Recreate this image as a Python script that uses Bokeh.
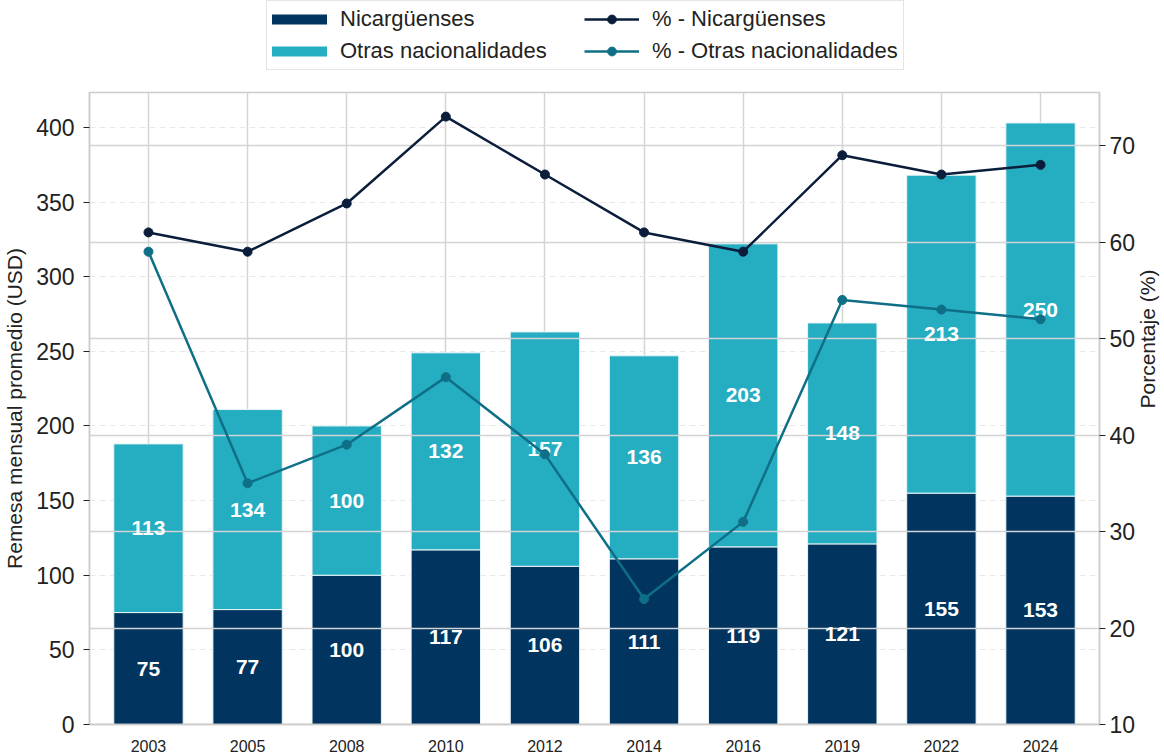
import math
from bokeh.plotting import figure
from bokeh.layouts import column
from bokeh.models import (ColumnDataSource, FactorRange, Range1d, LinearAxis, Legend,
                          LegendItem, FixedTicker)
from bokeh.embed import file_html
from bokeh.resources import INLINE
from bokeh.core.properties import value

years = ["2003", "2005", "2008", "2010", "2012", "2014", "2016", "2019", "2022", "2024"]
nic = [75, 77, 100, 117, 106, 111, 119, 121, 155, 153]
otras = [113, 134, 100, 132, 157, 136, 203, 148, 213, 250]
pct_nic = [61, 59, 64, 73, 67, 61, 59, 69, 67, 68]
pct_otras = [59, 35, 39, 46, 38, 23, 31, 54, 53, 52]
usd_ticks = [0, 50, 100, 150, 200, 250, 300, 350, 400]
pct_ticks = [10, 20, 30, 40, 50, 60, 70]

C_NIC = "#01355F"
C_OTR = "#25ADC2"
C_LNIC = "#0A1D3B"
C_LOTR = "#0F6F86"
FONT = "Liberation Sans"

src = ColumnDataSource(dict(
    year=years, nic=nic, otras=otras, pct_nic=pct_nic, pct_otras=pct_otras,
    idx=list(range(len(years))),
    mid_nic=[n / 2 for n in nic],
    mid_otr=[n + o / 2 for n, o in zip(nic, otras)],
    nic_txt=[str(v) for v in nic],
    otr_txt=[str(v) for v in otras],
))

W_LEFT, W_FRAME, W_RIGHT = 88, 1010, 66

p = figure(x_range=FactorRange(factors=years, range_padding=0.095, range_padding_units="absolute"),
           y_range=Range1d(0, 423.4),
           frame_width=W_FRAME, frame_height=632,
           min_border_left=W_LEFT, min_border_right=W_RIGHT, min_border_bottom=30, min_border_top=4,
           output_backend="svg", toolbar_location=None, background_fill_color="white",
           border_fill_color="white")
p.extra_y_ranges = {"pct": Range1d(10, 75.5)}

p.outline_line_color = "#cccccc"
p.outline_line_width = 1.5

# grids
p.xgrid.grid_line_color = "#d4d4d4"
p.xgrid.grid_line_width = 1.5
p.ygrid.grid_line_color = "#e8e8e8"
p.ygrid.grid_line_dash = "6 4"
p.ygrid.grid_line_width = 1
p.ygrid.ticker = FixedTicker(ticks=usd_ticks)

# bars
p.vbar_stack(["nic", "otras"], x="year", width=0.7, color=[C_NIC, C_OTR],
             line_color="#e8f4f7", line_width=1, source=src)

# right-axis grid drawn over bars
p.hspan(y=pct_ticks, y_range_name="pct", line_color="#d4d4d4", line_width=1.5)

# value labels
for ycol, tcol in (("mid_nic", "nic_txt"), ("mid_otr", "otr_txt")):
    p.text(x="year", y=ycol, text=tcol, source=src, text_color="white",
           text_font=value(FONT), text_font_style="bold", text_font_size="21px",
           text_align="center", text_baseline="middle")

# lines
p.line(x="year", y="pct_nic", source=src, y_range_name="pct", line_color=C_LNIC, line_width=2.5)
p.scatter(x="year", y="pct_nic", source=src, y_range_name="pct", size=9,
          fill_color=C_LNIC, line_color=C_LNIC)
p.line(x="year", y="pct_otras", source=src, y_range_name="pct", line_color=C_LOTR, line_width=2.5)
p.scatter(x="year", y="pct_otras", source=src, y_range_name="pct", size=9,
          fill_color=C_LOTR, line_color=C_LOTR)

# axes
yax = p.yaxis[0]
yax.ticker = FixedTicker(ticks=usd_ticks)
yax.axis_label = "Remesa mensual promedio (USD)"
rax = LinearAxis(y_range_name="pct", ticker=FixedTicker(ticks=pct_ticks), axis_label="Porcentaje (%)")
p.add_layout(rax, "right")

for ax in (yax, rax):
    ax.axis_line_color = "#cccccc"
    ax.axis_line_width = 1.5
    ax.major_tick_line_color = "#222222"
    ax.major_tick_out = 6
    ax.major_tick_in = 0
    ax.minor_tick_line_color = None
    ax.major_label_text_font = FONT
    ax.major_label_text_font_size = "23px"
    ax.major_label_text_color = "#222222"
    ax.axis_label_text_font = FONT
    ax.axis_label_text_font_size = "21px"
    ax.axis_label_text_font_style = "normal"
    ax.axis_label_text_color = "#222222"
yax.major_label_standoff = 9
yax.axis_label_standoff = 7
rax.major_label_standoff = 4
rax.axis_label_standoff = 9
rax.axis_label_orientation = math.pi / 2

xax = p.xaxis[0]
xax.axis_line_color = "#cccccc"
xax.axis_line_width = 1.5
xax.major_tick_line_color = None
xax.minor_tick_line_color = None
xax.major_label_text_font = FONT
xax.major_label_text_font_size = "16px"
xax.major_label_text_color = "#222222"
xax.major_label_standoff = 9

# ---- legend strip above the chart ----
LEG_H = 88
lf = figure(width=W_LEFT + W_FRAME + W_RIGHT, height=LEG_H,
            x_range=Range1d(0, 1), y_range=Range1d(10000, 10001),
            x_axis_location=None, y_axis_location=None,
            min_border=0, output_backend="svg", toolbar_location=None,
            background_fill_color="white", border_fill_color="white")
lf.outline_line_color = None
lf.grid.visible = False
# proxies (plotted off-view; used only for the legend glyphs)
lg1 = lf.line(x="idx", y="nic", source=src, line_color=C_NIC, line_width=10, line_cap="round")
lg2 = lf.line(x="idx", y="otras", source=src, line_color=C_OTR, line_width=10, line_cap="round")
l1 = lf.line(x="idx", y="pct_nic", source=src, line_color=C_LNIC, line_width=2.5)
s1 = lf.scatter(x="idx", y="pct_nic", source=src, size=9, fill_color=C_LNIC, line_color=C_LNIC)
l2 = lf.line(x="idx", y="pct_otras", source=src, line_color=C_LOTR, line_width=2.5)
s2 = lf.scatter(x="idx", y="pct_otras", source=src, size=9, fill_color=C_LOTR, line_color=C_LOTR)

legend = Legend(items=[
    LegendItem(label="Nicargüenses", renderers=[lg1]),
    LegendItem(label="Otras nacionalidades", renderers=[lg2]),
    LegendItem(label="% - Nicargüenses", renderers=[l1, s1]),
    LegendItem(label="% - Otras nacionalidades", renderers=[l2, s2]),
], ncols=2, orientation="vertical", location=(265 - W_LEFT, LEG_H - 70))
legend.label_text_font = FONT
legend.label_text_font_size = "22px"
legend.label_text_color = "#222222"
legend.glyph_width = 55
legend.glyph_height = 22
legend.label_height = 22
legend.label_width = 238
legend.label_standoff = 13
legend.spacing = 6
legend.padding = 5
legend.margin = 0
legend.border_line_color = "#cccccc"
legend.border_line_width = 1.2
legend.background_fill_alpha = 1
lf.add_layout(legend, "center")

layout = column(lf, p, spacing=0)
open("out.html", "w").write(file_html(layout, INLINE))
